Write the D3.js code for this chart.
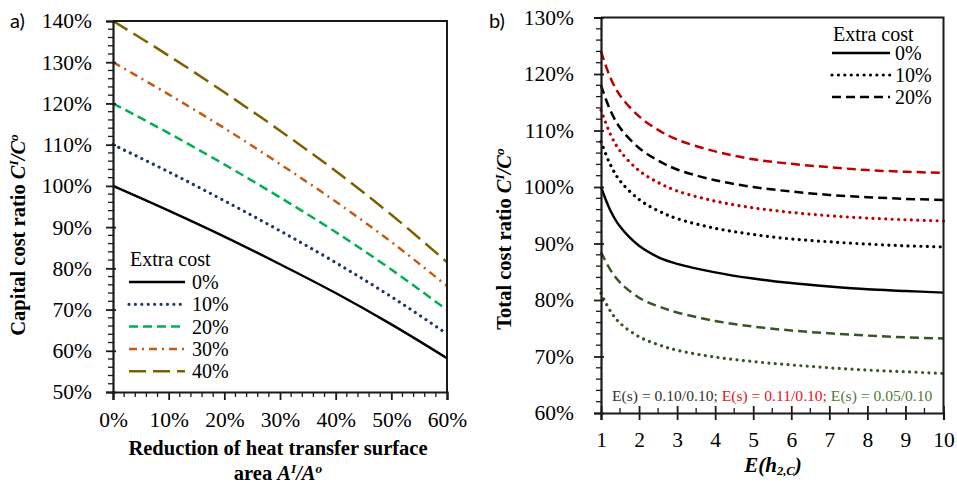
<!DOCTYPE html>
<html>
<head>
<meta charset="utf-8">
<script src="https://cdn.jsdelivr.net/npm/d3@7"></script>
<style>
  html, body { margin: 0; padding: 0; background: #fff; }
  svg { display: block; }
  text { font-family: "Liberation Serif", "Times New Roman", serif; fill: #000; }
</style>
</head>
<body>
<svg id="chart" width="957" height="486"></svg>
<script>
// ---- Panel a) capital cost ratio vs. reduction of heat transfer surface ----
const areaReduction = [0, 0.1, 0.2, 0.3, 0.4, 0.5, 0.6];
const extraCostLabels = ["0%", "10%", "20%", "30%", "40%"];
const capital0  = [100, 94.0, 87.7, 81.0, 74.0, 66.4, 58.2];
const capital10 = [110, 103.4, 96.4, 89.1, 81.4, 73.1, 64.1];
const capital20 = [120, 112.8, 105.2, 97.2, 88.8, 79.7, 69.9];
const capital30 = [130, 122.2, 114.0, 105.3, 96.2, 86.4, 75.7];
const capital40 = [140, 131.6, 122.7, 113.4, 103.6, 93.0, 81.5];
const leftYTicks = [50, 60, 70, 80, 90, 100, 110, 120, 130, 140];
const leftXTicks = [0, 0.1, 0.2, 0.3, 0.4, 0.5, 0.6];

// ---- Panel b) total cost ratio vs. E(h2,C) ----
const eh = [1, 1.25, 1.5, 2, 2.5, 3, 4, 5, 6, 7, 8, 9, 10];
const totalBlack0  = [100, 95.8, 93.0, 89.6, 87.6, 86.4, 84.9, 83.8, 83.0, 82.4, 81.9, 81.6, 81.3];
const totalBlack10 = [108.0, 103.9, 101.1, 97.8, 95.8, 94.4, 92.7, 91.6, 90.8, 90.3, 89.9, 89.6, 89.4];
const totalBlack20 = [118.0, 113.5, 110.5, 106.9, 104.7, 103.1, 101.2, 100.0, 99.2, 98.6, 98.2, 97.9, 97.7];
const totalRed10   = [113.6, 109.3, 106.4, 102.9, 100.8, 99.3, 97.5, 96.3, 95.5, 94.9, 94.5, 94.2, 94.0];
const totalRed20   = [124.0, 119.3, 116.2, 112.5, 110.1, 108.4, 106.3, 104.9, 104.1, 103.5, 103.0, 102.7, 102.5];
const totalGreen10 = [81.2, 78.0, 75.9, 73.5, 72.1, 71.1, 69.9, 69.1, 68.5, 68.0, 67.6, 67.3, 67.0];
const totalGreen20 = [88.5, 85.3, 83.1, 80.4, 78.9, 77.8, 76.3, 75.3, 74.6, 74.1, 73.7, 73.4, 73.2];
const rightYTicks = [60, 70, 80, 90, 100, 110, 120, 130];
const rightXTicks = [1, 2, 3, 4, 5, 6, 7, 8, 9, 10];
const rightLegendLabels = ["0%", "10%", "20%"];
const noteParts = ["E(s) = 0.10/0.10; ", "E(s) = 0.11/0.10; ", "E(s) = 0.05/0.10"];

const svg = d3.select("#chart");
const AXIS = "#1a1a1a";
const pct = d => d3.format(".0f")(d) + "%";

// line styles
const styles = {
  solid:   { dash: null, cap: "butt", w: 2.4 },
  dotted:  { dash: "0.01,6.4", cap: "round", w: 3.2 },
  dashed:  { dash: "9,5", cap: "butt", w: 2.5 },
  dashdot: { dash: "8,5,2,5", cap: "butt", w: 2.5 },
  longdash:{ dash: "17,7", cap: "butt", w: 2.5 }
};

function styledPath(g, pathD, color, st) {
  const s = styles[st];
  g.append("path").attr("d", pathD).attr("fill", "none")
    .attr("stroke", color).attr("stroke-width", s.w)
    .attr("stroke-linecap", s.cap)
    .attr("stroke-dasharray", s.dash);
}

function drawTitle(g, x, y, rotate, parts, size) {
  const t = g.append("text")
    .attr("transform", `translate(${x},${y})` + (rotate ? " rotate(-90)" : ""))
    .attr("text-anchor", "middle")
    .attr("font-size", size).attr("font-weight", "bold");
  parts.forEach(p => {
    const ts = t.append("tspan").text(p.t);
    if (p.i) ts.attr("font-style", "italic");
    if (p.sup) ts.attr("baseline-shift", "super").attr("font-size", size * 0.65);
    if (p.sub) ts.attr("baseline-shift", "-3").attr("font-size", size * 0.6);
  });
}

// ================= Panel a =================
{
  const x = d3.scaleLinear().domain([0, 0.6]).range([113, 447]);
  const y = d3.scaleLinear().domain([50, 140]).range([392, 21]);
  const g = svg.append("g");

  const series = [
    { v: capital0,  c: "#000000", st: "solid" },
    { v: capital10, c: "#203864", st: "dotted" },
    { v: capital20, c: "#00b050", st: "dashed" },
    { v: capital30, c: "#c55a11", st: "dashdot" },
    { v: capital40, c: "#7f6000", st: "longdash" }
  ];
  const line = d3.line().x(d => x(d[0])).y(d => y(d[1])).curve(d3.curveMonotoneX);
  series.forEach(s => styledPath(g, line(areaReduction.map((a, i) => [a, s.v[i]])), s.c, s.st));

  // frame (top and right)
  g.append("path").attr("d", `M${x(0)},${y(140)}H${x(0.6)}V${y(50)}`)
    .attr("fill", "none").attr("stroke", AXIS).attr("stroke-width", 2);

  // minor ticks
  const yMinor = d3.range(50, 140.1, 2).filter(v => v % 10 !== 0);
  g.selectAll(".ymin").data(yMinor).join("line")
    .attr("x1", x(0) - 5).attr("x2", x(0)).attr("y1", d => y(d)).attr("y2", d => y(d))
    .attr("stroke", AXIS).attr("stroke-width", 1.3);
  const xMinor = d3.range(0, 0.601, 0.02).filter(v => Math.abs(v * 10 - Math.round(v * 10)) > 1e-6);
  g.selectAll(".xmin").data(xMinor).join("line")
    .attr("x1", d => x(d)).attr("x2", d => x(d)).attr("y1", y(50)).attr("y2", y(50) + 5)
    .attr("stroke", AXIS).attr("stroke-width", 1.3);

  const yAxis = g.append("g").attr("transform", `translate(${x(0)},0)`)
    .call(d3.axisLeft(y).tickValues(leftYTicks).tickFormat(pct).tickSize(7).tickPadding(14));
  const xAxis = g.append("g").attr("transform", `translate(0,${y(50)})`)
    .call(d3.axisBottom(x).tickValues(leftXTicks).tickFormat(d => Math.round(d * 100) + "%").tickSize(8).tickPadding(12));
  [yAxis, xAxis].forEach(a => {
    a.select(".domain").attr("stroke", AXIS).attr("stroke-width", 2.2);
    a.selectAll(".tick line").attr("stroke", AXIS).attr("stroke-width", 1.8);
    a.selectAll(".tick text").attr("font-size", 21.5).attr("fill", "#000");
  });
  yAxis.selectAll(".tick line").attr("x2", 3).attr("x1", -7);

  // legend
  const lg = g.append("g");
  lg.append("text").attr("x", 130).attr("y", 266).attr("font-size", 20).text("Extra cost");
  series.forEach((s, i) => {
    const ly = 282 + i * 22.3;
    styledPath(lg, `M129,${ly}H185`, s.c, s.st);
    lg.append("text").attr("x", 192).attr("y", ly + 7).attr("font-size", 20).text(extraCostLabels[i]);
  });

  // titles
  drawTitle(g, 25, 235, true, [
    { t: "Capital cost ratio " }, { t: "C", i: true }, { t: "I", i: true, sup: true },
    { t: "/", i: true }, { t: "C", i: true }, { t: "o", i: true, sup: true }
  ], 20.5);
  drawTitle(g, 278, 455, false, [{ t: "Reduction of heat transfer surface" }], 20.5);
  drawTitle(g, 278, 480, false, [
    { t: "area " }, { t: "A", i: true }, { t: "I", i: true, sup: true },
    { t: "/", i: true }, { t: "A", i: true }, { t: "o", i: true, sup: true }
  ], 20.5);

  svg.append("text").attr("x", 10).attr("y", 28)
    .style("font-family", "Lato, 'Open Sans', sans-serif")
    .attr("font-size", 20).text("a)");
}

// ================= Panel b =================
{
  const x = d3.scaleLinear().domain([1, 10]).range([601, 943.5]);
  const y = d3.scaleLinear().domain([60, 130]).range([413, 17.5]);
  const g = svg.append("g");

  const series = [
    { v: totalBlack0,  c: "#000000", st: "solid" },
    { v: totalBlack10, c: "#000000", st: "dotted" },
    { v: totalBlack20, c: "#000000", st: "dashed" },
    { v: totalRed10,   c: "#c00000", st: "dotted" },
    { v: totalRed20,   c: "#c00000", st: "dashed" },
    { v: totalGreen10, c: "#375623", st: "dotted" },
    { v: totalGreen20, c: "#375623", st: "dashed" }
  ];
  const line = d3.line().x(d => x(d[0])).y(d => y(d[1])).curve(d3.curveCatmullRom.alpha(0.5));
  series.forEach(s => styledPath(g, line(eh.map((e, i) => [e, s.v[i]])), s.c, s.st));

  g.append("path").attr("d", `M${x(1)},${y(130)}H${x(10)}V${y(60)}`)
    .attr("fill", "none").attr("stroke", AXIS).attr("stroke-width", 2);

  const yMinor = d3.range(60, 130.1, 2).filter(v => v % 10 !== 0);
  g.selectAll(".ymin").data(yMinor).join("line")
    .attr("x1", x(1) - 5).attr("x2", x(1)).attr("y1", d => y(d)).attr("y2", d => y(d))
    .attr("stroke", AXIS).attr("stroke-width", 1.3);
  const xMinor = d3.range(1.5, 10, 1);
  g.selectAll(".xmin").data(xMinor).join("line")
    .attr("x1", d => x(d)).attr("x2", d => x(d)).attr("y1", y(60) - 5).attr("y2", y(60))
    .attr("stroke", AXIS).attr("stroke-width", 1.3);

  const yAxis = g.append("g").attr("transform", `translate(${x(1)},0)`)
    .call(d3.axisLeft(y).tickValues(rightYTicks).tickFormat(pct).tickSize(7).tickPadding(20));
  const xAxis = g.append("g").attr("transform", `translate(0,${y(60)})`)
    .call(d3.axisBottom(x).tickValues(rightXTicks).tickFormat(d3.format("d")).tickSize(7).tickPadding(12));
  [yAxis, xAxis].forEach(a => {
    a.select(".domain").attr("stroke", AXIS).attr("stroke-width", 2.2);
    a.selectAll(".tick line").attr("stroke", AXIS).attr("stroke-width", 1.8);
    a.selectAll(".tick text").attr("font-size", 21.5).attr("fill", "#000");
  });
  yAxis.selectAll(".tick line").attr("x1", -7).attr("x2", 3);
  xAxis.selectAll(".tick line").attr("y1", -7).attr("y2", 7);

  // legend
  const lg = g.append("g");
  lg.append("text").attr("x", 833).attr("y", 41).attr("font-size", 20).text("Extra cost");
  ["solid", "dotted", "dashed"].forEach((st, i) => {
    const ly = 53 + i * 22;
    styledPath(lg, `M832,${ly}H890`, "#000", st);
    lg.append("text").attr("x", 895).attr("y", ly + 7).attr("font-size", 20).text(rightLegendLabels[i]);
  });

  // scenario note
  const noteColors = ["#333333", "#e3141c", "#4f7a38"];
  const note = g.append("text").attr("x", 612).attr("y", 401).attr("font-size", 15.6);
  noteParts.forEach((p, i) => note.append("tspan").attr("fill", noteColors[i]).text(p));

  drawTitle(g, 511, 239, true, [
    { t: "Total cost ratio " }, { t: "C", i: true }, { t: "I", i: true, sup: true },
    { t: "/", i: true }, { t: "C", i: true }, { t: "o", i: true, sup: true }
  ], 20.5);
  drawTitle(g, 773, 472, false, [
    { t: "E", i: true }, { t: "(", i: true }, { t: "h", i: true }, { t: "2,C", i: true, sub: true }, { t: ")", i: true }
  ], 21);

  svg.append("text").attr("x", 489).attr("y", 28)
    .style("font-family", "Lato, 'Open Sans', sans-serif")
    .attr("font-size", 20).text("b)");
}
</script>
</body>
</html>
